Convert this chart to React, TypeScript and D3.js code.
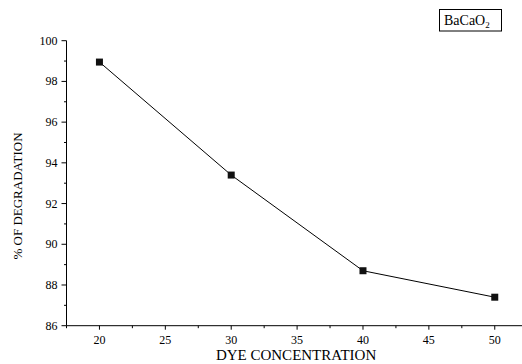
import React, { useEffect, useRef } from 'react';
import * as d3 from 'd3';

const concentrations = [20, 30, 40, 50];
const degradation = [98.95, 93.4, 88.7, 87.4];
const xTicks = [20, 25, 30, 35, 40, 45, 50];
const yTicks = [86, 88, 90, 92, 94, 96, 98, 100];

const App = () => {
  const svgRef = useRef(null);

  useEffect(() => {
    const svg = d3.select(svgRef.current);
    svg.selectAll('*').remove(); // Clear previous content

    const font = "'Liberation Serif', 'Times New Roman', serif";

    const x = d3.scaleLinear().domain([17.5, 52.5]).range([66.5, 527.7]);
    const y = d3.scaleLinear().domain([86, 100]).range([325.7, 40.7]);

    // minor ticks
    const xMinor = d3.range(17.5, 52.6, 2.5).filter((v) => !xTicks.includes(v));
    const yMinor = d3.range(87, 100, 2);

    const g = svg.append('g').attr('stroke', '#000').attr('stroke-width', 1);

    g.append('line')
      .attr('x1', x(17.5)).attr('x2', x(52.5))
      .attr('y1', y(86)).attr('y2', y(86));
    g.append('line')
      .attr('x1', x(17.5)).attr('x2', x(17.5))
      .attr('y1', y(86)).attr('y2', y(100));

    g.selectAll('.xmaj').data(xTicks).enter().append('line')
      .attr('x1', (d) => x(d)).attr('x2', (d) => x(d))
      .attr('y1', y(86)).attr('y2', y(86) + 4);
    g.selectAll('.xmin').data(xMinor).enter().append('line')
      .attr('x1', (d) => x(d)).attr('x2', (d) => x(d))
      .attr('y1', y(86)).attr('y2', y(86) + 2.5);
    g.selectAll('.ymaj').data(yTicks).enter().append('line')
      .attr('x1', x(17.5) - 5).attr('x2', x(17.5))
      .attr('y1', (d) => y(d)).attr('y2', (d) => y(d));
    g.selectAll('.ymin').data(yMinor).enter().append('line')
      .attr('x1', x(17.5) - 2.5).attr('x2', x(17.5))
      .attr('y1', (d) => y(d)).attr('y2', (d) => y(d));

    svg.selectAll('.xlab').data(xTicks).enter().append('text')
      .attr('x', (d) => x(d)).attr('y', y(86) + 18)
      .attr('text-anchor', 'middle')
      .attr('font-family', font).attr('font-size', 12)
      .text((d) => d);
    svg.selectAll('.ylab').data(yTicks).enter().append('text')
      .attr('x', x(17.5) - 9).attr('y', (d) => y(d) + 4)
      .attr('text-anchor', 'end')
      .attr('font-family', font).attr('font-size', 12)
      .text((d) => d);

    svg.append('text')
      .attr('x', x(35) - 1).attr('y', 360)
      .attr('text-anchor', 'middle')
      .attr('font-family', font).attr('font-size', 15)
      .text('DYE CONCENTRATION');
    svg.append('text')
      .attr('transform', 'translate(22,196) rotate(-90)')
      .attr('text-anchor', 'middle')
      .attr('font-family', font).attr('font-size', 13)
      .text('% OF DEGRADATION');

    const pts = concentrations.map((c, i) => [x(c), y(degradation[i])] as [number, number]);
    svg.append('path')
      .attr('d', d3.line()(pts))
      .attr('fill', 'none').attr('stroke', '#000').attr('stroke-width', 1);
    svg.selectAll('.pt').data(pts).enter().append('rect')
      .attr('x', (d) => d[0] - 3.5).attr('y', (d) => d[1] - 3.5)
      .attr('width', 7).attr('height', 7).attr('fill', '#111');

    // legend box
    svg.append('rect')
      .attr('x', 439.5).attr('y', 9.5).attr('width', 62).attr('height', 21.5)
      .attr('fill', 'none').attr('stroke', '#000').attr('stroke-width', 1);
    const lt = svg.append('text')
      .attr('x', 444).attr('y', 25)
      .attr('font-family', font).attr('font-size', 14);
    lt.append('tspan').text('BaCaO');
    lt.append('tspan').attr('dy', 3).attr('font-size', 9).text('2');
  }, []);

  return (
    <div style={{ width: 522, height: 364, position: 'fixed', left: 0, top: 0, background: '#fff' }}>
      <svg ref={svgRef} width={522} height={364}></svg>
    </div>
  );
};

export default App;
